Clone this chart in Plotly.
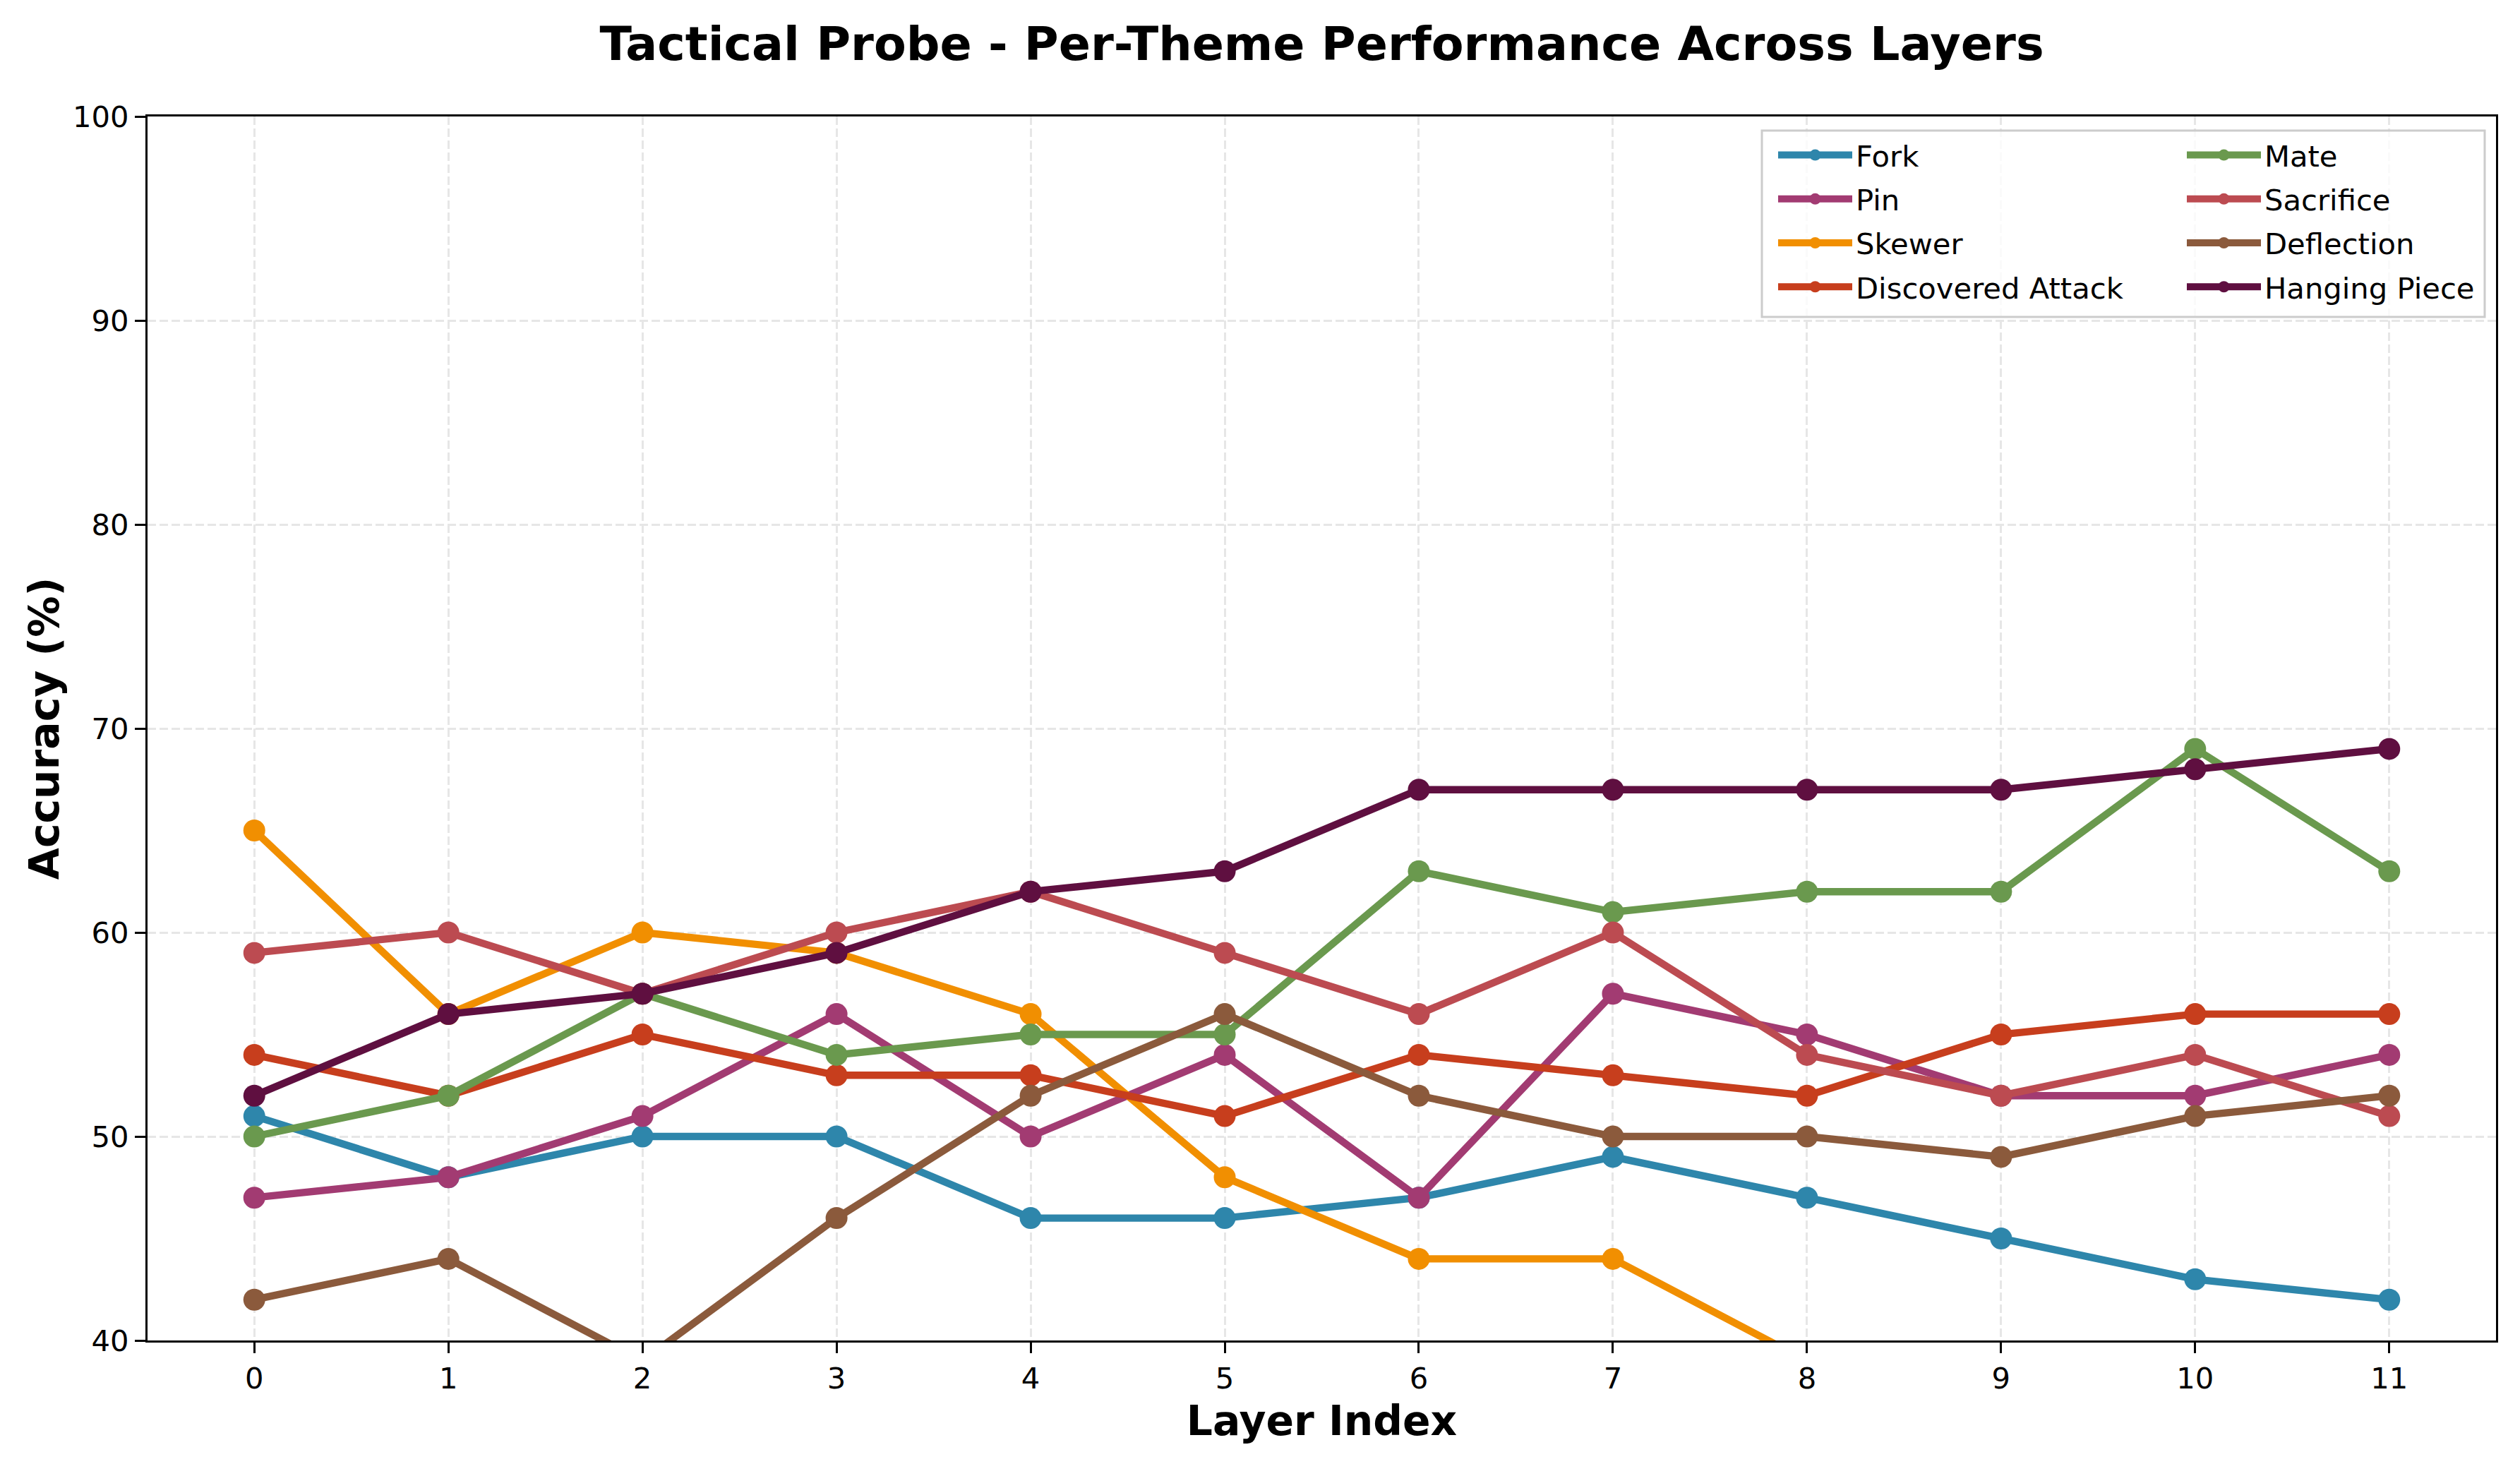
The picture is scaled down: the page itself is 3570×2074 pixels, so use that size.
import plotly.graph_objects as go

layers = list(range(12))
themes = ["Fork", "Pin", "Skewer", "Discovered Attack", "Mate", "Sacrifice", "Deflection", "Hanging Piece"]

fork = [51, 48, 50, 50, 46, 46, 47, 49, 47, 45, 43, 42]
pin = [47, 48, 51, 56, 50, 54, 47, 57, 55, 52, 52, 54]
skewer = [65, 56, 60, 59, 56, 48, 44, 44, 39, 38, 37, 36]
discovered_attack = [54, 52, 55, 53, 53, 51, 54, 53, 52, 55, 56, 56]
mate = [50, 52, 57, 54, 55, 55, 63, 61, 62, 62, 69, 63]
sacrifice = [59, 60, 57, 60, 62, 59, 56, 60, 54, 52, 54, 51]
deflection = [42, 44, 39, 46, 52, 56, 52, 50, 50, 49, 51, 52]
hanging_piece = [52, 56, 57, 59, 62, 63, 67, 67, 67, 67, 68, 69]

series = [fork, pin, skewer, discovered_attack, mate, sacrifice, deflection, hanging_piece]
colors = ["#2E86AB", "#A23B72", "#F18F01", "#C73E1D", "#6A994E", "#BC4B51", "#8B5A3C", "#5F0F40"]
legend_column = ["legend", "legend", "legend", "legend", "legend2", "legend2", "legend2", "legend2"]

y_ticks = [40, 50, 60, 70, 80, 90, 100]

W, H = 3570, 2074
L, R, T, B = 209, 34, 165, 175
PW, PH = W - L - R, H - T - B


def px_x(p):
    return (p - L) / PW


def px_y(p):
    return 1 - (p - T) / PH


fig = go.Figure()
for name, vals, col, lg in zip(themes, series, colors, legend_column):
    fig.add_trace(go.Scatter(
        x=layers, y=vals, name=name, mode="lines+markers",
        line=dict(color=col, width=10.4),
        marker=dict(color=col, size=31, line=dict(width=0)),
        legend=lg, legendgroup=name,
    ))

font_family = "DejaVu Sans"
axis_common = dict(
    showline=True, linewidth=3.3, linecolor="black", mirror=True,
    ticks="outside", ticklen=15, tickwidth=3.3, tickcolor="black",
    showgrid=True, gridcolor="#e6e6e6", gridwidth=3.3, griddash="12px,5px",
    zeroline=False,
    tickfont=dict(family=font_family, size=41.7, color="black"),
)

legend_common = dict(
    orientation="v", bgcolor="rgba(0,0,0,0)", borderwidth=0,
    font=dict(family=font_family, size=41.7, color="black"),
    itemwidth=105, xanchor="left", yanchor="top", traceorder="grouped",
    tracegroupgap=5,
)

fig.update_layout(
    width=W, height=H,
    margin=dict(l=L, r=R, t=T, b=B),
    paper_bgcolor="white", plot_bgcolor="white",
    title=dict(
        text="<b>Tactical Probe - Per-Theme Performance Across Layers</b>",
        font=dict(family=font_family, size=66.7, color="black"),
        x=(L + PW / 2) / W, xanchor="center",
        y=1 - 62 / H, yanchor="middle", yref="container",
    ),
    xaxis=dict(
        range=[-0.55, 11.55], tickmode="array", tickvals=layers,
        ticktext=[str(v) for v in layers],
        title=dict(text="<b>Layer Index</b>", font=dict(family=font_family, size=58.3, color="black"), standoff=16),
        **axis_common,
    ),
    yaxis=dict(
        range=[40, 100], tickmode="array", tickvals=y_ticks,
        ticktext=[str(v) for v in y_ticks],
        title=dict(text="<b>Accuracy (%)</b>", font=dict(family=font_family, size=58.3, color="black"), standoff=1),
        **axis_common,
    ),
    legend=dict(x=px_x(2514), y=px_y(186), **legend_common),
    legend2=dict(x=px_x(3093), y=px_y(186), **legend_common),
    shapes=[dict(
        type="rect", xref="paper", yref="paper", layer="above",
        x0=px_x(2496), x1=px_x(3520), y0=px_y(449), y1=px_y(185),
        fillcolor="rgba(255,255,255,0.8)", line=dict(color="#cccccc", width=3),
    )],
    showlegend=True,
)

fig.write_html("out.html", config={"displayModeBar": False},
               post_script="document.body.style.margin='0px';")
